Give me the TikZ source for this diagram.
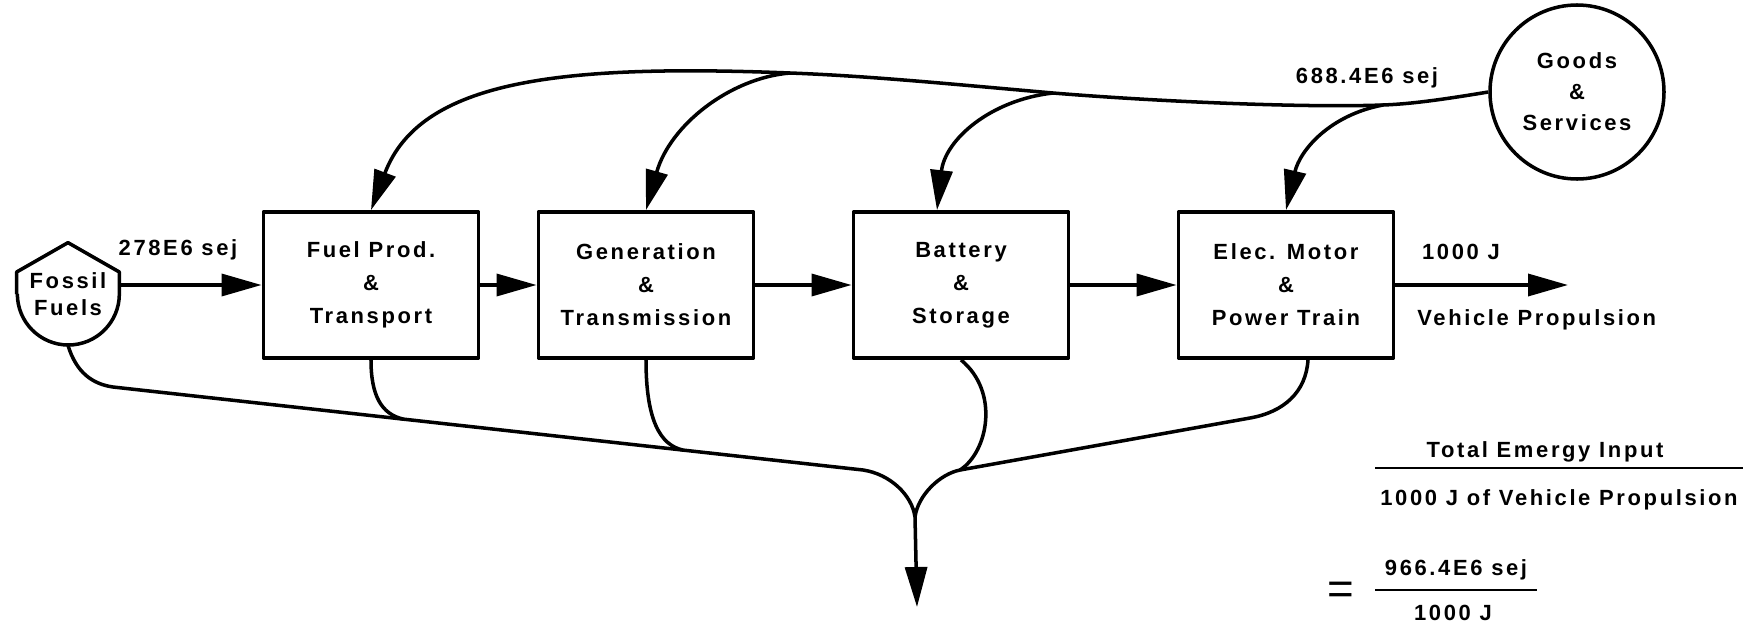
\documentclass[tikz,border=0pt]{standalone}
\usepackage{fontspec}
\setmainfont{Liberation Sans}[LetterSpace=12]
\usetikzlibrary{arrows.meta,calc}

\tikzset{
  proc/.style={draw, line width=2.2pt, minimum width=43mm, minimum height=29.2mm, align=center, inner sep=0pt},
  flow/.style={line width=2pt},
  tip/.style={-{Triangle[length=8mm,width=4.4mm]}},
  rule/.style={line width=1.4pt}
}

\begin{document}
\begin{tikzpicture}[x=0.2mm, y=-0.2mm, line join=round,
  every node/.style={font=\bfseries\fontsize{12.5}{18.7}\selectfont}]
\useasboundingbox (0,0) rectangle (1761,627);

% sources
\node[circle, minimum size=20.4mm, inner sep=0pt, align=center] (ff) at (68,294) {Fossil\\[-3.5pt]Fuels};
\draw[flow] (ff.west) -- ($(ff.west)+(0,-22)$) -- (ff.north) -- ($(ff.east)+(0,-22)$) -- (ff.east)
  arc[start angle=0, end angle=-180, radius=10.2mm];
\node[circle, draw, line width=2pt, minimum size=34.8mm, inner sep=0pt, align=center] (gs) at (1577,92) {Goods\\[-1pt]\&\\[-1pt]Services};

% processes
\node[proc] (fp) at (371,285) {Fuel Prod.\\\&\\Transport};
\node[proc] (gt) at (646,285) {Generation\\\&\\Transmission};
\node[proc] (bs) at (961,285) {Battery\\\&\\Storage};
\node[proc] (em) at (1286,285) {Elec. Motor\\\&\\Power Train};

\coordinate (out) at (1568,285);
\draw[flow, tip] (ff.east |- fp.west) -- (fp.west);
\draw[flow, tip] (fp.east) -- (gt.west);
\draw[flow, tip] (gt.east) -- (bs.west);
\draw[flow, tip] (bs.east) -- (em.west);
\draw[flow, tip] (em.east) -- (out);

% goods and services feedback
\coordinate (j2) at (790,73);
\coordinate (j3) at (1053,93);
\coordinate (j4) at (1383,105);
\draw[flow, tip] (gs.west) .. controls (1440,100) and (1410,104) .. (j4)
  .. controls (1300,108) and (1150,101) .. (j3)
  .. controls (950,84) and (870,76) .. (j2)
  .. controls (560,64) and (420,80) .. (fp.north);
\draw[flow, tip] (j2) .. controls (730,78) and (670,125) .. (gt.north);
\draw[flow, tip] (j3) .. controls (990,100) and (945,140) .. ([xshift=-4.8mm]bs.north);
\draw[flow, tip] (j4) .. controls (1330,115) and (1300,150) .. (em.north);

% losses
\coordinate (k0) at (113,387);
\coordinate (k1) at (863,470);
\coordinate (k2) at (960,470);
\coordinate (k3) at (1250,418);
\coordinate (jn) at (915,517);
\coordinate (sink) at (917,607);
\coordinate (m1) at ($(k0)!0.387!(k1)$);
\coordinate (m2) at ($(k0)!0.76!(k1)$);
\draw[flow] (ff.south) .. controls (76,372) and (92,384) .. (k0) -- (k1)
  .. controls (890,474) and (912,495) .. (jn);
\draw[flow] ([xshift=4.4mm]em.south) .. controls (1306,392) and (1284,412) .. (k3) -- (k2)
  .. controls (940,474) and (918,495) .. (jn);
\draw[flow] (fp.south) .. controls (371,395) and (381,414) .. (m1);
\draw[flow] (gt.south) .. controls (646,420) and (660,445) .. (m2);
\draw[flow] (bs.south) .. controls (1000,392) and (988,452) .. (k2);
\draw[flow, tip] (jn) -- (sink);

% labels
\node (lff) at (178,250) {278E6 sej};
\node (lgs) at (1367,78) {688.4E6 sej};
\node (lout) at (1461,252) {1000 J};
\node[anchor=west, inner sep=0pt] (lveh) at (1417,320) {Vehicle Propulsion};

\node (tot) at (1545,452) {Total Emergy Input};
\draw[rule] (1375,468) -- (1743,468);
\node (per) at (1559,500) {1000 J of Vehicle Propulsion};
\node[font=\fontsize{26}{26}\selectfont] (eq) at (1341,593) {=};
\node (num) at (1456,570) {966.4E6 sej};
\draw[rule] (1375,590) -- (1537,590);
\node (den) at (1453,613) {1000 J};
\end{tikzpicture}
\end{document}
